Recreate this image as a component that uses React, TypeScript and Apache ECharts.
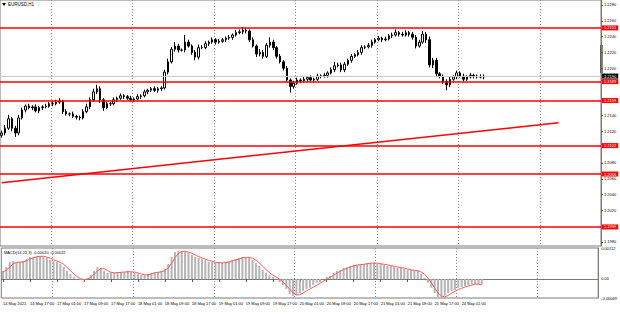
import React, { useEffect, useRef } from "react";
import * as echarts from "echarts";

// ---- data ----
const closes = [
  1.2118, 1.2124, 1.2136, 1.2124, 1.2118, 1.2137, 1.2147, 1.2152, 1.2150, 1.2151,
  1.2146, 1.2150, 1.2151, 1.2152, 1.2155, 1.2155, 1.2157, 1.2158, 1.2145, 1.2142,
  1.2142, 1.2139, 1.2138, 1.2137, 1.2145, 1.2151, 1.2160, 1.2170, 1.2174, 1.2160,
  1.2150, 1.2155, 1.2155, 1.2160, 1.2162, 1.2165, 1.2164, 1.2162, 1.2160, 1.2161,
  1.2164, 1.2165, 1.2170, 1.2172, 1.2174, 1.2172, 1.2174, 1.2175, 1.2195, 1.2208,
  1.2224, 1.2228, 1.2223, 1.2223, 1.2233, 1.2228, 1.2220, 1.2214, 1.2226, 1.2226,
  1.2231, 1.2233, 1.2236, 1.2233, 1.2234, 1.2236, 1.2238, 1.2239, 1.2242, 1.2245,
  1.2246, 1.2248, 1.2247, 1.2236, 1.2228, 1.2218, 1.2220, 1.2215, 1.2229, 1.2233,
  1.2226, 1.2215, 1.2208, 1.2200, 1.2185, 1.2177, 1.2181, 1.2185, 1.2184, 1.2186,
  1.2188, 1.2185, 1.2186, 1.2190, 1.2190, 1.2191, 1.2194, 1.2198, 1.2203, 1.2204,
  1.2198, 1.2205, 1.2210, 1.2215, 1.2217, 1.2220, 1.2226, 1.2227, 1.2229, 1.2233,
  1.2236, 1.2238, 1.2236, 1.2237, 1.2241, 1.2242, 1.2245, 1.2243, 1.2242, 1.2245,
  1.2243, 1.2239, 1.2228, 1.2233, 1.2243, 1.2236, 1.2204, 1.2210, 1.2193, 1.2190,
  1.2183, 1.2179, 1.2186, 1.2189, 1.2194, 1.2190, 1.2186, 1.2189, 1.2191, 1.2190,
  1.2189, 1.2189, 1.2190,
];
const firstOpen = 1.2115;
// wick lengths in pips
const upWick = [
  3, 4, 5, 2, 3, 4, 3, 2, 3, 2, 3, 2, 2, 3, 2, 3, 3, 4, 2, 3,
  2, 3, 2, 2, 3, 4, 3, 4, 5, 3, 2, 3, 2, 3, 2, 3, 2, 2, 3, 2,
  3, 2, 3, 2, 2, 3, 2, 2, 3, 4, 3, 5, 3, 2, 9, 3, 2, 3, 4, 3,
  3, 2, 3, 2, 3, 2, 2, 3, 2, 3, 3, 4, 3, 2, 3, 2, 4, 3, 3, 6,
  3, 2, 3, 2, 3, 2, 3, 3, 2, 3, 2, 3, 2, 3, 2, 3, 2, 3, 5, 3,
  3, 3, 2, 3, 2, 3, 3, 2, 3, 3, 2, 3, 2, 3, 2, 3, 4, 2, 3, 3,
  2, 3, 3, 3, 4, 3, 4, 3, 3, 2, 2, 3, 3, 2, 3, 2, 3, 2, 3, 2,
  2, 3, 2,
];
const downWick = [
  3, 3, 2, 4, 5, 3, 2, 3, 2, 3, 2, 3, 3, 2, 2, 3, 2, 2, 3, 2,
  3, 2, 3, 3, 2, 2, 3, 2, 3, 4, 4, 2, 3, 2, 3, 2, 3, 2, 2, 3,
  2, 3, 2, 3, 2, 2, 3, 3, 2, 3, 2, 3, 3, 2, 3, 2, 3, 4, 3, 2,
  2, 3, 2, 3, 2, 2, 3, 2, 3, 2, 2, 3, 3, 3, 2, 4, 3, 3, 2, 3,
  3, 3, 2, 3, 3, 8, 3, 2, 3, 2, 3, 2, 3, 2, 3, 2, 3, 2, 3, 2,
  3, 3, 2, 3, 2, 2, 3, 2, 2, 3, 2, 2, 3, 2, 2, 3, 2, 3, 2, 2,
  3, 3, 3, 2, 2, 4, 3, 4, 3, 3, 3, 7, 3, 2, 3, 2, 3, 2, 2, 3,
  2, 2, 3,
];
const macd = [
  0.00029, 0.00043, 0.00061, 0.00065, 0.00058, 0.00061, 0.00065, 0.00072, 0.00079, 0.00079,
  0.00083, 0.00083, 0.00079, 0.00076, 0.00069, 0.00065, 0.00061, 0.00054, 0.00043, 0.00029,
  0.00018, 0.00007, 0.0, -0.00004, -0.00004, 0.00004, 0.00014, 0.00029, 0.00043, 0.0004,
  0.00029, 0.00022, 0.00022, 0.00022, 0.00025, 0.00025, 0.00025, 0.00029, 0.00025, 0.00022,
  0.00018, 0.00014, 0.00014, 0.00018, 0.00022, 0.00025, 0.00025, 0.00029, 0.00036, 0.00054,
  0.00079, 0.00097, 0.00101, 0.00101, 0.00097, 0.00094, 0.00087, 0.00079, 0.00076, 0.00072,
  0.00069, 0.00061, 0.00061, 0.00058, 0.00058, 0.00058, 0.00061, 0.00065, 0.00069, 0.00072,
  0.00076, 0.00079, 0.00079, 0.00076, 0.00069, 0.00058, 0.00047, 0.00032, 0.00022, 0.00014,
  0.00007, 0.0, -0.00011, -0.00022, -0.00036, -0.00054, -0.00061, -0.00058, -0.00051, -0.00043,
  -0.00036, -0.00032, -0.00022, -0.00014, -0.00011, 0.0, 0.00007, 0.00011, 0.00022, 0.00029,
  0.00032, 0.0004, 0.00043, 0.00047, 0.00051, 0.00051, 0.00054, 0.00054, 0.00058, 0.00058,
  0.00058, 0.00054, 0.00054, 0.00051, 0.00047, 0.00047, 0.00043, 0.0004, 0.0004, 0.00036,
  0.00032, 0.00032, 0.00029, 0.00029, 0.00018, 0.00004, -0.00014, -0.00032, -0.00051, -0.00065,
  -0.00069, -0.00061, -0.00051, -0.00043, -0.0004, -0.00032, -0.00029, -0.00025, -0.00022, -0.00018,
  -0.00018, -0.0002, -0.0002,
];
const signal = [
  0.00025, 0.00032, 0.00043, 0.00054, 0.0006, 0.00061, 0.00061, 0.00066, 0.00072, 0.00077,
  0.0008, 0.00082, 0.00082, 0.00079, 0.00075, 0.0007, 0.00065, 0.0006, 0.00053, 0.00042,
  0.0003, 0.00018, 0.00008, 0.00001, -0.00003, -0.00001, 0.00005, 0.00016, 0.00029, 0.00037,
  0.00037, 0.0003, 0.00024, 0.00022, 0.00023, 0.00024, 0.00025, 0.00026, 0.00026, 0.00025,
  0.00022, 0.00018, 0.00015, 0.00015, 0.00018, 0.00022, 0.00024, 0.00026, 0.0003, 0.0004,
  0.00056, 0.00077, 0.00092, 0.001, 0.001, 0.00097, 0.00093, 0.00087, 0.00081, 0.00076,
  0.00072, 0.00067, 0.00064, 0.0006, 0.00059, 0.00058, 0.00059, 0.00061, 0.00065, 0.00069,
  0.00072, 0.00076, 0.00078, 0.00078, 0.00075, 0.00068, 0.00058, 0.00046, 0.00034, 0.00023,
  0.00014, 0.00007, -0.00001, -0.00011, -0.00023, -0.00037, -0.0005, -0.00058, -0.00057, -0.00051,
  -0.00043, -0.00037, -0.0003, -0.00023, -0.00016, -0.00008, -0.00001, 0.00006, 0.00013, 0.00021,
  0.00028, 0.00034, 0.00038, 0.00043, 0.00047, 0.0005, 0.00052, 0.00053, 0.00055, 0.00057,
  0.00058, 0.00057, 0.00055, 0.00053, 0.00051, 0.00048, 0.00046, 0.00043, 0.00041, 0.00039,
  0.00036, 0.00033, 0.00031, 0.0003, 0.00025, 0.00017, 0.00003, -0.00014, -0.00032, -0.0005,
  -0.00062, -0.00065, -0.0006, -0.00052, -0.00045, -0.00038, -0.00034, -0.00029, -0.00025, -0.00022,
  -0.00019, -0.00019, -0.00022,
];
const levels = [1.2251, 1.2183, 1.2159, 1.2102, 1.2066, 1.1999];
const trendIdx = [0, 164];
const trendVal = [1.2055, 1.2131];
// price-scale labels that are not hidden under the red level boxes
const priceTicks = [
  1.228, 1.226, 1.224, 1.222, 1.22, 1.214, 1.212,
  1.208, 1.206, 1.204, 1.202, 1.198,
];
const priceMin = 1.19749;
const priceMax = 1.22863;
const macdTicks = [0.00112, 0, -0.00069];
const timeLabels = [
  "14 May 2021", "14 May 17:00", "17 May 01:00", "17 May 09:00", "17 May 17:00",
  "18 May 01:00", "18 May 09:00", "18 May 17:00", "19 May 01:00", "19 May 09:00",
  "19 May 17:00", "20 May 01:00", "20 May 09:00", "20 May 17:00", "21 May 01:00",
  "21 May 09:00", "21 May 17:00", "24 May 01:00",
];
const sessions: [string, number, number][] = [
  ["14 May", 9, 23], ["17 May", 0, 23], ["18 May", 0, 23], ["19 May", 0, 23],
  ["20 May", 0, 23], ["21 May", 0, 23], ["24 May", 0, 23], ["25 May", 0, 17],
];
const symbolTitle = "EURUSD,H1";
const macdLegend = "MACD(14,22,3) -0.00020 -0.00022";

const categories: string[] = [];
sessions.forEach(([d, a, b]) => {
  for (let h = a; h <= b; h++) categories.push(`${d} ${String(h).padStart(2, "0")}:00`);
});

const candles = closes.map((c, i) => {
  const o = i === 0 ? firstOpen : closes[i - 1];
  const hi = Math.max(o, c) + upWick[i] * 0.0001;
  const lo = Math.min(o, c) - downWick[i] * 0.0001;
  return [o, c, +lo.toFixed(5), +hi.toFixed(5)];
});
const lastClose = closes[closes.length - 1];

const FONT = "Liberation Sans";
const labelEvery = (i: number) => i % 8 === 0 && i / 8 < timeLabels.length;
const dayLine = (i: number) => i % 24 === 15;
const gridLine = { show: true, interval: dayLine, lineStyle: { color: "#8a8a8a", type: [1, 2], width: 1 } };

export default function App() {
  const ref = useRef<HTMLDivElement>(null);
  useEffect(() => {
    if (!ref.current) return;
    const chart = echarts.init(ref.current, undefined, { renderer: "svg" });
    const levelLine = (v: number) => ({
      yAxis: v,
      lineStyle: { color: "#ff0000", width: 1.5, type: "solid" },
      label: {
        show: true, position: "end", distance: 1, formatter: v.toFixed(4),
        color: "#fff", backgroundColor: "#ff0000", fontSize: 4, fontFamily: FONT,
        padding: [0.5, 2, 0.5, 2],
      },
    });
    chart.setOption({
      animation: false,
      backgroundColor: "#ffffff",
      textStyle: { fontFamily: FONT },
      grid: [
        { left: 0, top: 0, width: 601, height: 246, show: true, borderColor: "#7a7a7a", borderWidth: 1 },
        { left: 0, top: 248, width: 601, height: 50, show: true, borderColor: "#7a7a7a", borderWidth: 1 },
      ],
      xAxis: [
        {
          type: "category", gridIndex: 0, data: categories, boundaryGap: true,
          axisLine: { show: false }, axisTick: { show: false }, axisLabel: { show: false },
          splitLine: gridLine,
        },
        {
          type: "category", gridIndex: 1, data: categories, boundaryGap: true,
          axisLine: { show: true, lineStyle: { color: "#7a7a7a" } },
          axisTick: { show: true, interval: labelEvery, alignWithLabel: true, length: 3, lineStyle: { color: "#555" } },
          axisLabel: {
            show: true, interval: labelEvery, fontSize: 4, color: "#000", align: "left", margin: 3,
            formatter: (_v: string, i: number) => timeLabels[i / 8] ?? "",
          },
          splitLine: gridLine,
        },
      ],
      yAxis: [
        {
          type: "value", gridIndex: 0, position: "right", min: priceMin, max: priceMax,
          axisLine: { show: true, lineStyle: { color: "#7a7a7a" } },
          axisTick: { show: true, length: 2, customValues: priceTicks, lineStyle: { color: "#555" } },
          axisLabel: {
            show: true, customValues: priceTicks, fontSize: 4, color: "#000", margin: 3,
            formatter: (v: number) => v.toFixed(4),
          },
          splitLine: { show: false },
        },
        {
          type: "value", gridIndex: 1, position: "right", min: macdTicks[2], max: macdTicks[0],
          axisLine: { show: true, lineStyle: { color: "#7a7a7a" } },
          axisTick: { show: false },
          axisLabel: {
            show: true, customValues: macdTicks, fontSize: 4, color: "#000", margin: 3,
            formatter: (v: number) => (v === 0 ? "0.00" : v.toFixed(5)),
          },
          splitLine: { show: false },
        },
      ],
      series: [
        {
          type: "candlestick", xAxisIndex: 0, yAxisIndex: 0, data: candles, barWidth: 2,
          itemStyle: { color: "#ffffff", color0: "#000000", borderColor: "#000000", borderColor0: "#000000", borderWidth: 1 },
          markLine: {
            silent: true, symbol: ["none", "none"], animation: false, precision: 5,
            data: [
              {
                yAxis: lastClose, lineStyle: { color: "#c8c8c8", width: 1, type: "solid" },
                label: {
                  show: true, position: "end", distance: 1, formatter: lastClose.toFixed(4),
                  color: "#fff", backgroundColor: "#000", fontSize: 4, fontFamily: FONT, padding: [0.5, 2, 0.5, 2],
                },
              },
              ...levels.map((v) => levelLine(v)),
              [
                { coord: [trendIdx[0], trendVal[0]], lineStyle: { color: "#ff0000", width: 1.5, type: "solid" }, label: { show: false } },
                { coord: [trendIdx[1], trendVal[1]] },
              ],
            ],
          },
        },
        {
          type: "bar", xAxisIndex: 1, yAxisIndex: 1, data: macd, barWidth: 2,
          itemStyle: { color: "#b4b4b4" },
        },
        {
          type: "line", xAxisIndex: 1, yAxisIndex: 1, data: signal, symbol: "none",
          lineStyle: { color: "#ff5a5a", width: 1 },
        },
      ],
      graphic: [
        { type: "polygon", shape: { points: [[2, 3], [6, 3], [4, 6]] }, style: { fill: "#000" } },
        { type: "text", x: 8, y: 2, style: { text: symbolTitle, fontSize: 4.5, fill: "#000", fontFamily: FONT } },
        { type: "text", x: 4, y: 250, style: { text: macdLegend, fontSize: 4, fill: "#000", fontFamily: FONT } },
        { type: "line", shape: { x1: 601.5, y1: 45, x2: 601.5, y2: 73 }, style: { stroke: "#000", lineWidth: 2 } },
      ],
    });
    return () => chart.dispose();
  }, []);
  return (
    <div
      ref={ref}
      style={{ position: "fixed", left: 0, top: 0, width: 620, height: 316, background: "#fff" }}
    />
  );
}
